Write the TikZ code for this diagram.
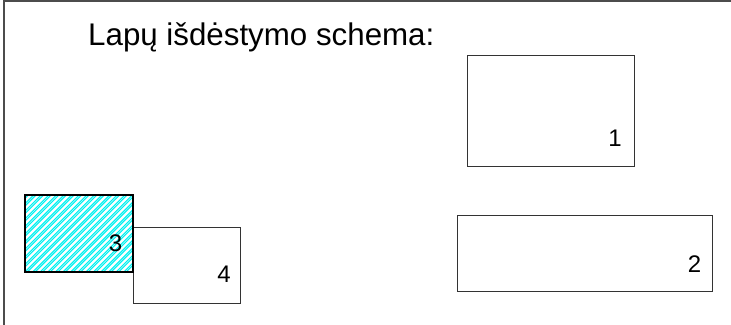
\documentclass[tikz,border=0pt]{standalone}
\usepackage{fontspec}
\setmainfont{Liberation Sans}
\definecolor{hatchcyan}{RGB}{0,240,240}
\begin{document}
\begin{tikzpicture}[x=1pt,y=-1pt,
  sheet/.style={draw=black!80,line width=0.9pt},
  sheetbold/.style={draw=black,line width=1.8pt},
  num/.style={font=\fontsize{24}{26}\selectfont,inner sep=0pt,anchor=center},
  hatchline/.style={hatchcyan,line width=1.1pt}]
\useasboundingbox (0,0) rectangle (731,324);
\begin{scope}
\clip (0,0) rectangle (731,324);
\draw[draw=black!70,line width=1.5pt] (4,1) rectangle (740,330);
\end{scope}
\node[font=\fontsize{31.3}{34}\selectfont,anchor=base west,inner sep=0pt] (title) at (88,45) {Lapų išdėstymo schema:};
% sheet 1
\draw[sheet] (467,55) rectangle (634,166);
\node[num] (n1) at (615,138) {1};
% sheet 2
\draw[sheet] (457,215) rectangle (712,291);
\node[num] (n2) at (694.5,264) {2};
% sheet 4
\draw[sheet] (133,227) rectangle (240,303);
\node[num] (n4) at (224,274) {4};
% sheet 3 hatched
\begin{scope}
\clip (25,195) rectangle (133,272);
\foreach \k in {-12,...,26}{
  \draw[hatchline] (25+\k*7.6,272) -- ++(80,-80);
  \draw[hatchline] (27.4+\k*7.6,272) -- ++(80,-80);
}
\end{scope}
\draw[sheetbold] (25,195) rectangle (133,272);
\node[num] (n3) at (115.5,243.5) {3};
\end{tikzpicture}
\end{document}
